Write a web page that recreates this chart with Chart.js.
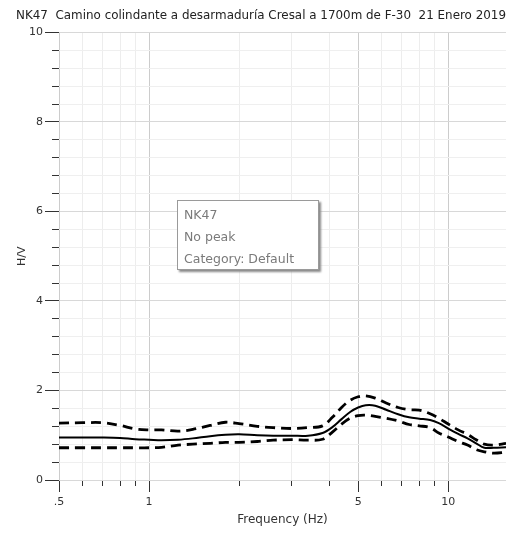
<!DOCTYPE html>
<html>
<head>
<meta charset="utf-8">
<script src="https://cdn.jsdelivr.net/npm/chart.js@4.4.1/dist/chart.umd.min.js"></script>
<style>
    html, body { margin: 0; padding: 0; background: #fff; }
    #wrap { position: relative; width: 526px; height: 533px; }
    #info {
        position: absolute; left: 177px; top: 200px; width: 134px; height: 62px;
        padding: 3px 0 3px 6px; background: #fff; border: 1px solid #9a9a9a;
        box-shadow: 2px 2px 2px #8a8a8a;
        font: 12.5px "DejaVu Sans", sans-serif; line-height: 22px; color: #7a7a7a;
    }
</style>
</head>
<body>
<div id="wrap">
    <canvas id="hvChart" width="526" height="533"></canvas>
    <div id="info">NK47<br>No peak<br>Category: Default</div>
</div>
<script>
// H/V curve
const frequencies = [0.5, 0.6, 0.7, 0.8, 0.9, 1.0, 1.1, 1.25, 1.4, 1.6, 1.8, 2.0, 2.3, 2.6, 3.0, 3.4, 3.8, 4.1,
    4.4, 4.7, 5.0, 5.3, 5.7, 6.2, 6.8, 7.4, 8.0, 8.7, 9.3, 10, 10.8, 11.6, 12.4, 13.2, 14.2, 15.6];
const hvMean = [0.95, 0.95, 0.95, 0.94, 0.91, 0.90, 0.89, 0.90, 0.93, 0.98, 1.01, 1.02, 1.00, 0.99, 0.99, 0.99, 1.05, 1.18,
    1.36, 1.52, 1.62, 1.67, 1.66, 1.57, 1.47, 1.40, 1.37, 1.34, 1.27, 1.15, 1.03, 0.93, 0.82, 0.72, 0.72, 0.73];
const hvUpper = [1.27, 1.28, 1.28, 1.22, 1.14, 1.12, 1.12, 1.09, 1.13, 1.22, 1.29, 1.26, 1.20, 1.17, 1.15, 1.17, 1.21, 1.40,
    1.62, 1.78, 1.86, 1.88, 1.83, 1.72, 1.62, 1.57, 1.56, 1.48, 1.38, 1.25, 1.12, 1.02, 0.90, 0.80, 0.78, 0.82];
const hvLower = [0.72, 0.72, 0.72, 0.72, 0.72, 0.72, 0.73, 0.78, 0.80, 0.82, 0.84, 0.84, 0.86, 0.89, 0.90, 0.89, 0.91, 1.07,
    1.25, 1.38, 1.44, 1.45, 1.42, 1.38, 1.32, 1.24, 1.21, 1.17, 1.05, 0.96, 0.86, 0.78, 0.68, 0.63, 0.60, 0.62];

const xTicks = [0.5, 0.6, 0.7, 0.8, 0.9, 1, 2, 3, 4, 5, 6, 7, 8, 9, 10];
const xMajor = [0.5, 1, 5, 10];
const xLabels = ['.5', '1', '5', '10'];
const yTicks = Array.from({ length: 26 }, (_, i) => +(i * 0.4).toFixed(1));

const FONT = '"DejaVu Sans", sans-serif';

function toPoints(ys) {
    return frequencies.map((f, i) => ({ x: f, y: ys[i] }));
}

function isYMajor(v) {
    return Math.abs(v / 2 - Math.round(v / 2)) < 1e-6;
}

const curve = (label, ys, dashed) => ({
    label: label,
    data: toPoints(ys),
    borderColor: '#000',
    borderWidth: dashed ? 2.8 : 2,
    borderDash: dashed ? [10, 6] : [],
    pointRadius: 0,
    tension: 0.35,
    fill: false
});

new Chart(document.getElementById('hvChart'), {
    type: 'line',
    data: {
        datasets: [
            curve('H/V', hvMean, false),
            curve('H/V + std', hvUpper, true),
            curve('H/V - std', hvLower, true)
        ]
    },
    options: {
        responsive: false,
        animation: false,
        layout: { padding: { left: 16, right: 20, top: 0, bottom: 0 } },
        plugins: {
            legend: { display: false },
            tooltip: { enabled: false },
            title: {
                display: true,
                text: 'NK47  Camino colindante a desarmaduría Cresal a 1700m de F-30  21 Enero 2019',
                color: '#222',
                font: { family: FONT, size: 12, weight: 'normal' },
                padding: { top: 9, bottom: 9 }
            }
        },
        scales: {
            x: {
                type: 'logarithmic',
                min: 0.5,
                max: 15.6,
                afterBuildTicks: scale => { scale.ticks = xTicks.map(v => ({ value: v })); },
                afterFit: scale => { scale.height = 53; },
                border: { display: false },
                grid: {
                    color: ctx => xMajor.includes(ctx.tick.value) ? '#cccccc' : '#ededed',
                    tickColor: '#333',
                    tickLength: 12,
                    tickBorderDash: [12, 100],
                    tickBorderDashOffset: ctx => xMajor.includes(ctx.tick.value) ? 0 : 6
                },
                ticks: {
                    autoSkip: false,
                    maxRotation: 0,
                    padding: 4,
                    color: '#333',
                    font: { family: FONT, size: 11 },
                    callback: value => {
                        const i = xMajor.indexOf(value);
                        return i >= 0 ? xLabels[i] : '';
                    }
                },
                title: {
                    display: true,
                    text: 'Frequency (Hz)',
                    color: '#333',
                    font: { family: FONT, size: 12 },
                    padding: { top: 0, bottom: 6 }
                }
            },
            y: {
                min: 0,
                max: 10,
                afterBuildTicks: scale => { scale.ticks = yTicks.map(v => ({ value: v })); },
                afterFit: scale => { scale.width = 43; },
                border: { display: false },
                grid: {
                    color: ctx => isYMajor(ctx.tick.value) ? '#d8d8d8' : '#efefef',
                    tickColor: '#333',
                    tickLength: 14,
                    tickBorderDash: [14, 100],
                    tickBorderDashOffset: ctx => isYMajor(ctx.tick.value) ? 0 : 107
                },
                ticks: {
                    autoSkip: false,
                    padding: 2,
                    color: '#333',
                    font: { family: FONT, size: 11 },
                    callback: value => isYMajor(value) ? String(Math.round(value)) : ''
                },
                title: {
                    display: true,
                    text: 'H/V',
                    color: '#333',
                    font: { family: FONT, size: 11 },
                    padding: { top: 0, bottom: 0 }
                }
            }
        }
    }
});
</script>
</body>
</html>
